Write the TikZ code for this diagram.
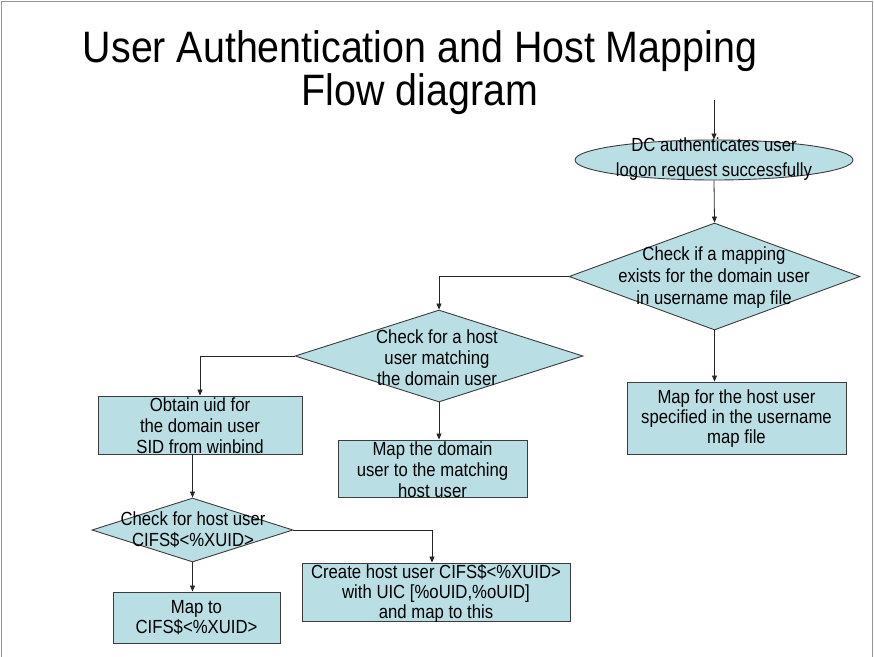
\documentclass[tikz,border=0pt]{standalone}
\usepackage{fontspec}
\setmainfont{Liberation Sans}[FakeStretch=0.88]
\newfontfamily\titlefont{Liberation Sans}[FakeStretch=0.895]
\usetikzlibrary{shapes.geometric,arrows.meta}
\definecolor{boxfill}{RGB}{185,222,228}
\definecolor{boxline}{RGB}{60,60,60}
\definecolor{frameline}{RGB}{150,150,150}
\tikzset{
  flowbox/.style={draw=boxline,fill=boxfill,line width=0.9pt,inner sep=0pt,rectangle},
  flowdia/.style={draw=boxline,fill=boxfill,line width=0.9pt,inner sep=0pt,diamond},
  flowell/.style={draw=boxline,fill=boxfill,line width=0.9pt,inner sep=0pt,ellipse},
  flowtext/.style={align=center,inner sep=0pt,font=\fontsize{19}{21}\selectfont},
  conn/.style={draw=black!85,line width=0.8pt,-{Triangle[length=6pt,width=5pt]}}
}
\begin{document}
\begin{tikzpicture}[x=1pt,y=-1pt]
\useasboundingbox (0,0) rectangle (874,656);
\draw[frameline,line width=1pt] (1.5,670) -- (1.5,1.5) -- (872.5,1.5) -- (872.5,670);

\node[align=center,inner sep=0pt,font=\titlefont\fontsize{44}{43}\selectfont] (title) at (420,73)
  {User Authentication and Host Mapping\\Flow diagram};

% shapes
\node[flowell,minimum width=278pt,minimum height=40pt] (ell) at (714,160) {};
\node[flowdia,minimum width=291pt,minimum height=107pt] (d1) at (714.5,276.5) {};
\node[flowdia,minimum width=288pt,minimum height=92pt] (d2) at (439,356) {};
\node[flowdia,minimum width=201pt,minimum height=64pt] (d3) at (192.5,530) {};
\node[flowbox,minimum width=204pt,minimum height=58pt] (obtain) at (200,425) {};
\node[flowbox,minimum width=189pt,minimum height=57pt] (mapdom) at (432.5,468.5) {};
\node[flowbox,minimum width=219pt,minimum height=72pt] (mapfor) at (736.5,418) {};
\node[flowbox,minimum width=268pt,minimum height=58pt] (create) at (436,592) {};
\node[flowbox,minimum width=167pt,minimum height=51pt] (mapto) at (196.5,617.5) {};

% texts
\node[flowtext,font=\fontsize{19}{25}\selectfont] (tell) at (714,159) {DC authenticates user\\logon request successfully};
\node[flowtext,font=\fontsize{19}{22}\selectfont] (td1) at (714,278) {Check if a mapping\\exists for the domain user\\in username map file};
\node[flowtext] (td2) at (437,358) {Check for a host\\user matching\\the domain user};
\node[flowtext] (td3) at (193,530) {Check for host user\\CIFS\$<\%XUID>};
\node[flowtext] (tobtain) at (200,426) {Obtain uid for\\the domain user\\SID from winbind};
\node[flowtext] (tmapdom) at (432.5,470) {Map the domain\\user to the matching\\host user};
\node[flowtext,font=\fontsize{19}{20}\selectfont] (tmapfor) at (736.5,419) {Map for the host user\\specified in the username\\map file};
\node[flowtext,font=\fontsize{19}{20}\selectfont] (tcreate) at (436,593) {Create host user CIFS\$<\%XUID>\\with UIC [\%oUID,\%oUID]\\and map to this};
\node[flowtext,font=\fontsize{19}{20}\selectfont] (tmapto) at (196.5,618) {Map to\\CIFS\$<\%XUID>};

% connectors
\coordinate (start) at (714,100);
\draw[conn] (start) -- (ell.north);
\draw[conn] (ell.south) -- (d1.north);
\draw[conn] (d1.west) -| (d2.north);
\draw[conn] (d1.south) -- (d1.south |- mapfor.north);
\draw[conn] (d2.west) -| (obtain.north);
\draw[conn] (d2.south) -- (d2.south |- mapdom.north);
\draw[conn] (d3.north |- obtain.south) -- (d3.north);
\draw[conn] (d3.east) -| ([xshift=-4pt]create.north);
\draw[conn] (d3.south) -- (d3.south |- mapto.north);
\end{tikzpicture}
\end{document}
